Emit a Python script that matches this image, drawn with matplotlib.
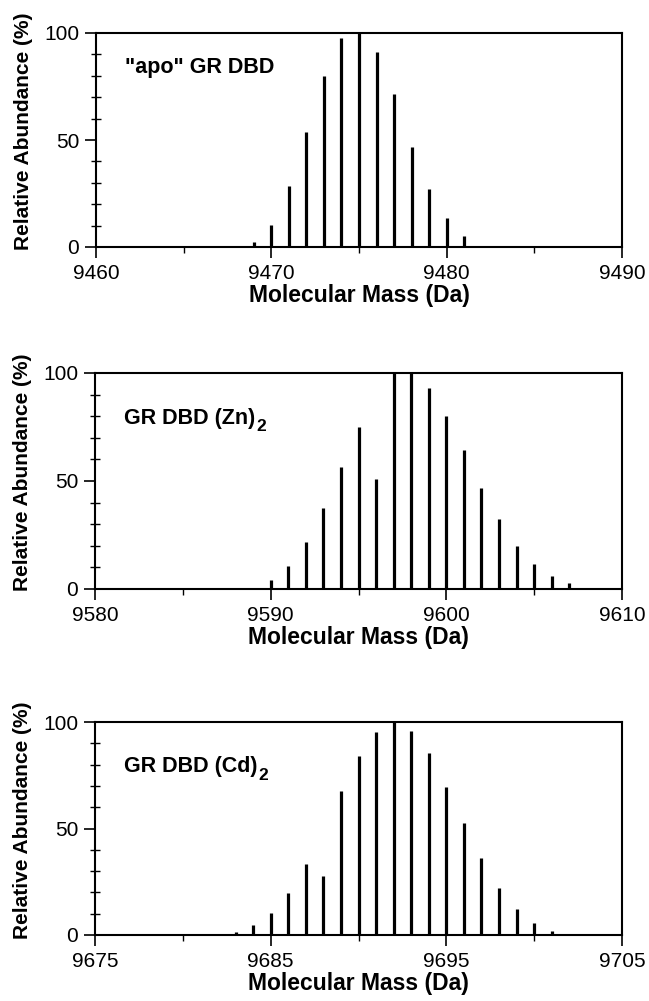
import matplotlib
matplotlib.use("Agg")
import matplotlib.pyplot as plt
from matplotlib.ticker import MultipleLocator

plt.rcParams["font.family"] = ["Liberation Sans", "DejaVu Sans"]

# isotope peak abundances (%)
APO_MASS = list(range(9469, 9482))
APO_ABUND = [2.5, 10.4, 28.3, 53.9, 80.1, 97.7, 100, 91, 71.3, 46.9, 27.3, 13.4, 5.3]

ZN_MASS = list(range(9590, 9609))
ZN_ABUND = [4.0, 10.5, 21.6, 37.5, 56.5, 74.8, 51.1, 100, 100, 93, 79.9,
            64.2, 46.8, 32.4, 19.8, 11.7, 5.9, 2.6, 0.6]

CD_MASS = list(range(9683, 9703))
CD_ABUND = [1.5, 4.7, 10.5, 19.9, 33.3, 27.8, 67.7, 84, 95.4, 100, 95.9,
            85.3, 69.5, 52.4, 36, 22, 12.2, 5.6, 2.0, 0.5]

LABELS = ['"apo" GR DBD', "GR DBD (Zn)", "GR DBD (Cd)"]
SUBSCRIPTS = ["", "2", "2"]
XRANGES = [(9460, 9490), (9580, 9610), (9675, 9705)]
XLABEL = "Molecular Mass (Da)"
YLABEL = "Relative Abundance (%)"

W, H = 649, 1001
# axes boxes in pixels: left, right, top, bottom
BOXES = [(96, 622, 33, 247), (95, 622, 373, 589), (95, 622, 722, 935)]
LABEL_Y = [0.84, 0.79, 0.79]

fig = plt.figure(figsize=(W / 100, H / 100), dpi=100)

series = [(APO_MASS, APO_ABUND), (ZN_MASS, ZN_ABUND), (CD_MASS, CD_ABUND)]
for i, ((mass, abund), (x0, x1)) in enumerate(zip(series, XRANGES)):
    l, r, t, b = BOXES[i]
    ax = fig.add_axes([l / W, 1 - b / H, (r - l) / W, (b - t) / H])
    ax.vlines(mass, 0, abund, color="black", linewidth=2.3)
    ax.set_xlim(x0, x1)
    ax.set_ylim(0, 100)
    ax.set_xticks(range(x0, x1 + 1, 10))
    ax.set_yticks([0, 50, 100])
    ax.xaxis.set_minor_locator(MultipleLocator(5))
    ax.yaxis.set_minor_locator(MultipleLocator(10))
    for s in ax.spines.values():
        s.set_linewidth(1.5)
    ax.tick_params(which="major", direction="out", length=8, width=1.2,
                   labelsize=15, pad=4)
    ax.tick_params(axis="x", which="minor", direction="out", length=4, width=1.0)
    ax.tick_params(axis="y", which="minor", direction="inout", length=7, width=1.0)
    ax.set_xlabel(XLABEL, fontsize=16.5, fontweight="bold", labelpad=1)
    ax.set_ylabel(YLABEL, fontsize=15, fontweight="bold")
    ax.yaxis.set_label_coords(-0.12, 0.54)
    txt = ax.text(0.055, LABEL_Y[i], LABELS[i], transform=ax.transAxes,
                  fontsize=15.5, fontweight="bold", va="center", ha="left")
    if SUBSCRIPTS[i]:
        ax.annotate(SUBSCRIPTS[i], xy=(1.0, 0.0), xycoords=txt,
                    xytext=(0.5, -1.8), textcoords="offset points",
                    fontsize=12.5, fontweight="bold", va="baseline", ha="left")

fig.savefig("out.png", dpi=100)
